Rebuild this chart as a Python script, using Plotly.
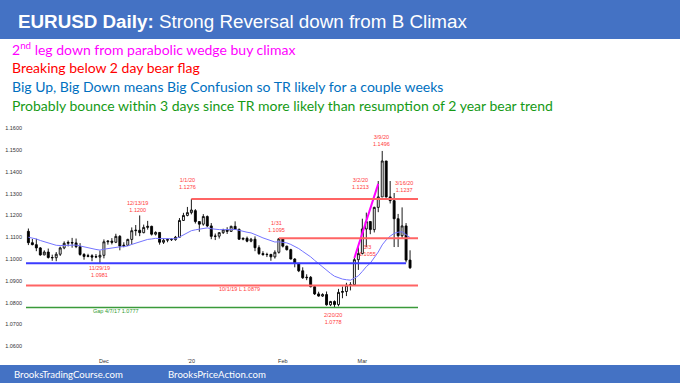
import plotly.graph_objects as go

W, H = 680, 383

# ---------------- data ----------------
dates = [
    "2019-11-05", "2019-11-06", "2019-11-07", "2019-11-08", "2019-11-11", "2019-11-12", "2019-11-13",
    "2019-11-14", "2019-11-15", "2019-11-18", "2019-11-19", "2019-11-20", "2019-11-21", "2019-11-22",
    "2019-11-25", "2019-11-26", "2019-11-27", "2019-11-28", "2019-11-29",
    "2019-12-02", "2019-12-03", "2019-12-04", "2019-12-05", "2019-12-06", "2019-12-09", "2019-12-10",
    "2019-12-11", "2019-12-12", "2019-12-13", "2019-12-16", "2019-12-17", "2019-12-18", "2019-12-19",
    "2019-12-20", "2019-12-23", "2019-12-24", "2019-12-25", "2019-12-26", "2019-12-27", "2019-12-30",
    "2019-12-31",
    "2020-01-01", "2020-01-02", "2020-01-03", "2020-01-06", "2020-01-07", "2020-01-08", "2020-01-09",
    "2020-01-10", "2020-01-13", "2020-01-14", "2020-01-15", "2020-01-16", "2020-01-17", "2020-01-20",
    "2020-01-21", "2020-01-22", "2020-01-23", "2020-01-24", "2020-01-27", "2020-01-28", "2020-01-29",
    "2020-01-30", "2020-01-31",
    "2020-02-03", "2020-02-04", "2020-02-05", "2020-02-06", "2020-02-07", "2020-02-10", "2020-02-11",
    "2020-02-12", "2020-02-13", "2020-02-14", "2020-02-17", "2020-02-18", "2020-02-19", "2020-02-20",
    "2020-02-21", "2020-02-24", "2020-02-25", "2020-02-26", "2020-02-27", "2020-02-28",
    "2020-03-02", "2020-03-03", "2020-03-04", "2020-03-05", "2020-03-06", "2020-03-09", "2020-03-10",
    "2020-03-11", "2020-03-12", "2020-03-13", "2020-03-16", "2020-03-17", "2020-03-18",
]
opens = [
    1.1127, 1.1075, 1.1066, 1.1051, 1.1019, 1.1032, 1.1007, 1.1006, 1.1022, 1.1051, 1.1072, 1.1076,
    1.1074, 1.1057, 1.1021, 1.1012, 1.1015, 1.1009, 1.1009,
    1.1017, 1.1079, 1.1082, 1.1077, 1.1104, 1.1059, 1.1063, 1.1090, 1.1130, 1.1132, 1.1121, 1.1145,
    1.1150, 1.1114, 1.1122, 1.1077, 1.1086, 1.1090, 1.1089, 1.1100, 1.1177, 1.1200,
    1.1213, 1.1222, 1.1172, 1.1160, 1.1195, 1.1152, 1.1104, 1.1105, 1.1121, 1.1134, 1.1127, 1.1150,
    1.1136, 1.1091, 1.1095, 1.1082, 1.1091, 1.1052, 1.1025, 1.1020, 1.1021, 1.1010, 1.1031,
    1.1093, 1.1059, 1.1043, 1.1000, 1.0980, 1.0946, 1.0914, 1.0916, 1.0873, 1.0840, 1.0830, 1.0837,
    1.0790, 1.0805, 1.0791, 1.0847, 1.0851, 1.0880, 1.0882, 1.0997,
    1.1025, 1.1138, 1.1172, 1.1135, 1.1237, 1.1285, 1.1450, 1.1285, 1.1268, 1.1185, 1.1107, 1.1152,
    1.0995,
]
highs = [
    1.1140, 1.1092, 1.1093, 1.1055, 1.1040, 1.1048, 1.1020, 1.1032, 1.1057, 1.1081, 1.1085, 1.1097,
    1.1094, 1.1073, 1.1027, 1.1024, 1.1022, 1.1023, 1.1039,
    1.1090, 1.1086, 1.1096, 1.1116, 1.1110, 1.1077, 1.1093, 1.1145, 1.1156, 1.1200, 1.1158, 1.1175,
    1.1153, 1.1127, 1.1124, 1.1094, 1.1093, 1.1096, 1.1106, 1.1188, 1.1212, 1.1239,
    1.1276, 1.1229, 1.1173, 1.1206, 1.1200, 1.1165, 1.1117, 1.1123, 1.1139, 1.1146, 1.1153, 1.1173,
    1.1140, 1.1098, 1.1103, 1.1097, 1.1104, 1.1063, 1.1036, 1.1029, 1.1024, 1.1040, 1.1095,
    1.1095, 1.1061, 1.1047, 1.1004, 1.0980, 1.0962, 1.0930, 1.0922, 1.0877, 1.0850, 1.0843, 1.0851,
    1.0808, 1.0810, 1.0863, 1.0874, 1.0891, 1.0894, 1.1005, 1.1054,
    1.1185, 1.1213, 1.1173, 1.1240, 1.1358, 1.1496, 1.1450, 1.1358, 1.1303, 1.1207, 1.1237, 1.1165,
    1.1040,
]
lows = [
    1.1064, 1.1063, 1.1036, 1.1015, 1.1017, 1.1002, 1.0992, 1.0990, 1.1014, 1.1045, 1.1058, 1.1052,
    1.1050, 1.1015, 1.0997, 1.1008, 1.0990, 1.1004, 1.0981,
    1.1003, 1.1066, 1.1067, 1.1073, 1.1040, 1.1054, 1.1061, 1.1067, 1.1107, 1.1105, 1.1118, 1.1135,
    1.1108, 1.1108, 1.1066, 1.1069, 1.1077, 1.1083, 1.1084, 1.1100, 1.1175, 1.1196,
    1.1205, 1.1163, 1.1125, 1.1153, 1.1147, 1.1091, 1.1087, 1.1094, 1.1115, 1.1115, 1.1124, 1.1135,
    1.1088, 1.1086, 1.1077, 1.1077, 1.1036, 1.1019, 1.1016, 1.1009, 1.0992, 1.1002, 1.1025,
    1.1053, 1.1039, 1.0998, 1.0962, 1.0940, 1.0909, 1.0903, 1.0870, 1.0835, 1.0827, 1.0826, 1.0786,
    1.0784, 1.0778, 1.0783, 1.0820, 1.0830, 1.0856, 1.0880, 1.0950,
    1.1021, 1.1055, 1.1114, 1.1122, 1.1215, 1.1285, 1.1282, 1.1255, 1.1055, 1.1055, 1.1094, 1.0985,
    1.0955,
]
closes = [
    1.1075, 1.1066, 1.1051, 1.1019, 1.1032, 1.1007, 1.1006, 1.1022, 1.1051, 1.1072, 1.1076, 1.1074,
    1.1057, 1.1021, 1.1012, 1.1015, 1.1009, 1.1011, 1.1017,
    1.1079, 1.1082, 1.1077, 1.1104, 1.1059, 1.1063, 1.1090, 1.1130, 1.1132, 1.1121, 1.1145, 1.1150,
    1.1114, 1.1122, 1.1077, 1.1086, 1.1090, 1.1089, 1.1100, 1.1177, 1.1200, 1.1213,
    1.1225, 1.1172, 1.1160, 1.1195, 1.1152, 1.1104, 1.1105, 1.1121, 1.1134, 1.1127, 1.1150, 1.1136,
    1.1091, 1.1095, 1.1082, 1.1091, 1.1052, 1.1025, 1.1020, 1.1021, 1.1010, 1.1031, 1.1093,
    1.1059, 1.1043, 1.1000, 1.0980, 1.0946, 1.0914, 1.0916, 1.0873, 1.0840, 1.0830, 1.0837, 1.0790,
    1.0805, 1.0791, 1.0847, 1.0851, 1.0880, 1.0882, 1.0997, 1.1025,
    1.1138, 1.1172, 1.1135, 1.1237, 1.1285, 1.1450, 1.1285, 1.1268, 1.1185, 1.1107, 1.1152, 1.0995,
    1.0960,
]
ema20 = [
    1.1100, 1.1097, 1.1092, 1.1085, 1.1080, 1.1073, 1.1067, 1.1063, 1.1062, 1.1063, 1.1064, 1.1065,
    1.1064, 1.1060, 1.1055, 1.1052, 1.1048, 1.1044, 1.1041,
    1.1045, 1.1048, 1.1051, 1.1056, 1.1056, 1.1057, 1.1060, 1.1067, 1.1073, 1.1077, 1.1084, 1.1090,
    1.1092, 1.1095, 1.1094, 1.1093, 1.1093, 1.1092, 1.1093, 1.1101, 1.1110, 1.1120,
    1.1130, 1.1134, 1.1137, 1.1142, 1.1143, 1.1139, 1.1136, 1.1135, 1.1135, 1.1134, 1.1135, 1.1136,
    1.1131, 1.1128, 1.1123, 1.1120, 1.1114, 1.1105, 1.1097, 1.1090, 1.1083, 1.1078, 1.1079,
    1.1077, 1.1074, 1.1067, 1.1059, 1.1048, 1.1035, 1.1024, 1.1010, 1.0994, 1.0978, 1.0965, 1.0948,
    1.0934, 1.0921, 1.0914, 1.0908, 1.0905, 1.0903, 1.0912, 1.0923,
    1.0943, 1.0965, 1.0981, 1.1005, 1.1032, 1.1065, 1.1088, 1.1105, 1.1118, 1.1123, 1.1125, 1.1112,
    1.1098,
]

y_tick_values = [1.06, 1.07, 1.08, 1.09, 1.10, 1.11, 1.12, 1.13, 1.14, 1.15, 1.16]
x_tick_dates = ["2019-12-02", "2020-01-01", "2020-02-03", "2020-03-02"]
x_tick_labels = ["Dec", "'20", "Feb", "Mar"]

blue_level = 1.0981
blue_level_end = "2020-03-17"
red_levels = [1.1276, 1.1095, 1.0879]
red_level_starts = ["2020-01-01", "2020-01-31", None]
green_level = 1.0777

wedge_dates = ["2020-02-27", "2020-03-06"]
wedge_prices = [1.1005, 1.1345]

title_bold = "EURUSD Daily:"
title_rest = " Strong Reversal down from B Climax"
comment_lines = [
    ("2<sup>nd</sup> leg down from parabolic wedge buy climax", "#FF00FF"),
    ("Breaking below 2 day bear flag", "#FF0000"),
    ("Big Up, Big Down means Big Confusion so TR likely for a couple weeks", "#0070C0"),
    ("Probably bounce within 3 days since TR more likely than resumption of 2 year bear trend", "#169A16"),
]
footer_texts = ["BrooksTradingCourse.com", "BrooksPriceAction.com"]

# ---------------- layout helpers ----------------
def px(x):
    return x / W

def py(y):
    return 1 - y / H

X_MIN = -0.6
X_MAX = len(dates) + 1.0
Y_MIN, Y_MAX = 1.0555, 1.1638
PLOT_L, PLOT_R, PLOT_T, PLOT_B = 26, 418, 120, 356
BLUE_BAND = "#4472C4"
LABEL_RED = "#FF3B3B"

idx = {d: i for i, d in enumerate(dates)}

fig = go.Figure()

fig.add_trace(go.Candlestick(
    x=list(range(len(dates))), open=opens, high=highs, low=lows, close=closes,
    increasing=dict(fillcolor="white", line=dict(color="black", width=0.9)),
    decreasing=dict(fillcolor="black", line=dict(color="black", width=0.9)),
    whiskerwidth=0, showlegend=False, hoverinfo="skip",
))
fig.add_trace(go.Scatter(
    x=list(range(len(dates))), y=ema20, mode="lines",
    line=dict(color="#7474FF", width=1), showlegend=False, hoverinfo="skip",
))
fig.add_trace(go.Scatter(
    x=[idx[d] for d in wedge_dates], y=wedge_prices, mode="lines",
    line=dict(color="#FF00FF", width=2), showlegend=False, hoverinfo="skip",
))

shapes = []
shapes.append(dict(type="line", xref="x", yref="y", x0=X_MIN, x1=idx[blue_level_end],
                   y0=blue_level, y1=blue_level, line=dict(color="#3B3BFF", width=2)))
for lvl, start in zip(red_levels, red_level_starts):
    x0 = X_MIN if start is None else idx[start]
    shapes.append(dict(type="line", xref="x", yref="y", x0=x0, x1=X_MAX,
                       y0=lvl, y1=lvl, line=dict(color="#FF6464", width=2)))
shapes.append(dict(type="line", xref="x", yref="y", x0=X_MIN, x1=X_MAX,
                   y0=green_level, y1=green_level, line=dict(color="#3A9A3A", width=1.5)))
shapes.append(dict(type="rect", xref="paper", yref="paper", x0=0, x1=1, y0=py(39), y1=1,
                   fillcolor=BLUE_BAND, line=dict(width=0), layer="below"))
shapes.append(dict(type="rect", xref="paper", yref="paper", x0=0, x1=1, y0=0, y1=py(365),
                   fillcolor=BLUE_BAND, line=dict(width=0), layer="below"))

annotations = []
annotations.append(dict(
    xref="paper", yref="paper", x=px(16), y=py(21), xanchor="left", yanchor="middle",
    text=f"<b>{title_bold}</b>{title_rest}", showarrow=False,
    font=dict(family="Liberation Sans, Arial", size=18.8, color="white"),
))
for i, (txt, col) in enumerate(comment_lines):
    annotations.append(dict(
        xref="paper", yref="paper", x=px(10), y=py(49 + i * 18.7), xanchor="left", yanchor="middle",
        text=txt, showarrow=False, font=dict(family="Lato", size=14, color=col),
    ))
for txt, x0 in zip(footer_texts, [12, 166]):
    annotations.append(dict(
        xref="paper", yref="paper", x=px(x0), y=py(374), xanchor="left", yanchor="middle",
        text=txt, showarrow=False, font=dict(family="Lato", size=9.6, color="white"),
    ))

chart_labels = [
    ("12/13/19<br>1.1200", 27.5, 1.1240, LABEL_RED, "center"),
    ("11/29/19<br>1.0981", 18, 1.0943, LABEL_RED, "center"),
    ("1/1/20<br>1.1276", 40, 1.1345, LABEL_RED, "center"),
    ("1/31<br>1.1095", 62.3, 1.1150, LABEL_RED, "center"),
    ("2/20/20<br>1.0778", 76.5, 1.0725, LABEL_RED, "center"),
    ("3/3<br>1.1055", 85.3, 1.1040, LABEL_RED, "center"),
    ("3/2/20<br>1.1213", 83.5, 1.1345, LABEL_RED, "center"),
    ("3/9/20<br>1.1496", 88.8, 1.1546, LABEL_RED, "center"),
    ("3/16/20<br>1.1237", 94.5, 1.1333, LABEL_RED, "center"),
    ("Gap 4/7/17 1.0777", 15.8, 1.0760, "#2E9A2E", "left"),
    ("10/1/19 L 1.0879", 47.5, 1.0862, LABEL_RED, "left"),
]
for txt, xi, yv, col, anc in chart_labels:
    annotations.append(dict(
        xref="x", yref="y", x=xi, y=yv, xanchor=anc, yanchor="middle", text=txt,
        showarrow=False, font=dict(family="Liberation Sans, Arial", size=5.5, color=col),
    ))

fig.update_layout(
    width=W, height=H, margin=dict(l=0, r=0, t=0, b=0),
    paper_bgcolor="white", plot_bgcolor="white",
    shapes=shapes, annotations=annotations,
    xaxis=dict(
        domain=[px(PLOT_L), px(PLOT_R)], range=[X_MIN, X_MAX], showgrid=False, zeroline=False,
        showline=False, ticks="", tickmode="array",
        tickvals=[idx[d] for d in x_tick_dates], ticktext=x_tick_labels,
        tickfont=dict(family="Liberation Sans, Arial", size=5.5, color="#333333"),
        rangeslider=dict(visible=False), fixedrange=True,
    ),
    yaxis=dict(
        domain=[py(PLOT_B), py(PLOT_T)], range=[Y_MIN, Y_MAX], showgrid=False, zeroline=False,
        showline=False, ticks="", tickmode="array", tickvals=y_tick_values,
        ticktext=[f"{v:.4f}" for v in y_tick_values],
        tickfont=dict(family="Liberation Sans, Arial", size=5.5, color="#333333"),
        ticklabelstandoff=3, fixedrange=True,
    ),
)

fig.write_html(
    "out.html",
    config={"displayModeBar": False},
    post_script="document.body.style.margin='0px';document.body.style.overflow='hidden';",
)
